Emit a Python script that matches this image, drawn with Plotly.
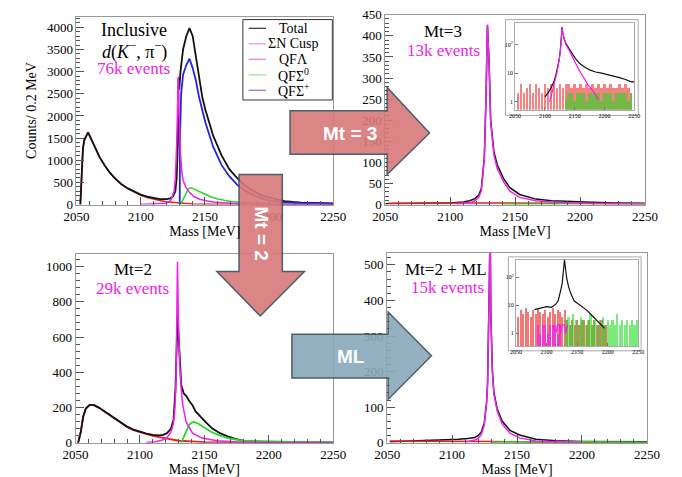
import plotly.graph_objects as go

W, H = 682, 477


def px(x):
    return x / W


def py(y):
    return 1 - y / H


# ---------------- Panel 1 : Inclusive ----------------
p1_total_x = [2053, 2054, 2055, 2056, 2058, 2059, 2060, 2062, 2065, 2068, 2072, 2076, 2080, 2085, 2090, 2095,
              2100, 2105, 2110, 2115, 2120, 2123, 2125, 2127, 2128, 2129, 2129.4, 2130, 2131, 2133, 2135.5,
              2138, 2140.5, 2143, 2145.5, 2148, 2150.5, 2156.5, 2163, 2169, 2175, 2181, 2188, 2194, 2200,
              2212, 2225, 2250]
p1_total_y = [0, 600, 1250, 1450, 1600, 1630, 1570, 1450, 1250, 1070, 880, 720, 590, 460, 365, 290,
              225, 180, 145, 125, 125, 140, 180, 300, 600, 1400, 2850, 2600, 3000, 3500, 3800,
              3980, 3800, 3370, 2860, 2420, 2130, 1550, 1110, 800, 600, 430, 306, 210, 160,
              80, 45, 25]
p1_lam_x = [2053, 2054, 2055, 2056, 2058, 2059, 2060, 2062, 2065, 2068, 2072, 2076, 2080, 2085, 2090, 2095,
            2100, 2105, 2110, 2115, 2120, 2125, 2130, 2135, 2140, 2150, 2160, 2180, 2250]
p1_lam_y = [0, 600, 1250, 1450, 1600, 1630, 1570, 1450, 1250, 1070, 880, 720, 590, 460, 360, 280,
            210, 160, 120, 90, 65, 50, 35, 25, 15, 8, 4, 1, 0]
p1_cusp_x = [2100, 2110, 2115, 2120, 2122, 2124, 2126, 2127, 2128, 2128.7, 2129.3, 2129.9, 2130.9, 2132,
             2133, 2135, 2138, 2142, 2146, 2152, 2158, 2170, 2185, 2200, 2250]
p1_cusp_y = [3, 8, 15, 30, 60, 130, 300, 600, 1350, 2200, 2890, 2050, 1180, 750,
             550, 400, 270, 170, 120, 80, 55, 30, 15, 8, 3]
p1_sig0_x = [2131, 2133, 2135, 2137, 2139, 2142, 2146, 2150, 2155, 2160, 2165, 2170, 2180, 2190, 2200,
             2225, 2250]
p1_sig0_y = [0, 120, 260, 350, 380, 350, 290, 230, 170, 125, 95, 70, 45, 30, 20, 10, 5]
p1_sigp_x = [2130.4, 2130.6, 2131.5, 2133, 2135.5, 2138, 2140.5, 2143, 2145.5, 2148, 2150.5, 2156.5, 2163,
             2169, 2175, 2181, 2188, 2194, 2200, 2212, 2225, 2250]
p1_sigp_y = [0, 1500, 2500, 2930, 3150, 3290, 3080, 2800, 2420, 2100, 1840, 1300, 890,
             640, 450, 320, 210, 140, 90, 55, 35, 20]

# ---------------- Panel 2 : Mt=3 ----------------
p2_total_x = [2050, 2080, 2100, 2110, 2115, 2119, 2122, 2124, 2126.3, 2127.6, 2128.7, 2130, 2131.2, 2133.7,
              2136.2, 2141, 2146, 2153.5, 2166, 2178, 2200, 2225, 2250]
p2_total_y = [2, 3, 4, 6, 9, 14, 22, 38, 112, 256, 425, 335, 200, 125,
              95, 62, 40, 24, 13, 9, 6, 4, 3]
p2_cusp_x = [2105, 2112, 2116, 2119, 2122, 2124, 2126.3, 2127.6, 2128.7, 2130, 2131.2, 2133.7, 2136.2,
             2141, 2146, 2153.5, 2166, 2178, 2200, 2250]
p2_cusp_y = [1, 3, 5, 9, 17, 32, 109, 254, 427, 331, 193, 117, 86,
             55, 32, 17, 9, 6, 3, 1]
p2_lam_x = [2052, 2080, 2110, 2140, 2170, 2200, 2250]
p2_lam_y = [3, 4, 4, 4, 3, 3, 2]
p2_sig0_x = [2140, 2170, 2200, 2250]
p2_sig0_y = [1, 2, 2, 2]

# ---------------- Panel 3 : Mt=2 ----------------
p3_total_x = [2052, 2054, 2056, 2058, 2061, 2064, 2068, 2072, 2076, 2080, 2085, 2090, 2095, 2100, 2105,
              2110, 2115, 2118, 2121, 2124, 2126, 2127.5, 2128.5, 2129.2, 2130.3, 2131, 2132, 2134, 2136,
              2138, 2141, 2143, 2146, 2151, 2156, 2162, 2168, 2174, 2180, 2193, 2210, 2250]
p3_total_y = [0, 60, 150, 195, 215, 215, 200, 180, 160, 140, 115, 92, 75, 62, 52,
              45, 42, 45, 55, 80, 130, 300, 600, 720, 560, 470, 330, 280, 265,
              240, 210, 180, 155, 118, 82, 55, 37, 22, 12, 6, 4, 2]
p3_lam_x = [2052, 2054, 2056, 2058, 2061, 2064, 2068, 2072, 2076, 2080, 2085, 2090, 2095, 2100, 2105,
            2110, 2115, 2120, 2125, 2130, 2140, 2150, 2170, 2250]
p3_lam_y = [0, 60, 150, 195, 215, 215, 200, 180, 160, 140, 115, 90, 72, 60, 48,
            40, 32, 25, 18, 12, 8, 4, 1, 0]
p3_cusp_x = [2105, 2112, 2117, 2121, 2124, 2126, 2127.1, 2127.9, 2128.4, 2129.1, 2129.8, 2130.8, 2132,
             2133.3, 2135.8, 2140.8, 2148, 2160, 2180, 2250]
p3_cusp_y = [2, 6, 15, 30, 60, 110, 200, 340, 614, 1026, 700, 449, 300,
             210, 119, 55, 27, 12, 4, 0]
p3_sig0_x = [2132, 2134, 2136, 2138, 2140, 2142, 2145, 2150, 2155.7, 2162, 2168, 2180, 2200, 2225, 2250]
p3_sig0_y = [0, 35, 70, 100, 115, 119, 110, 85, 60, 42, 27, 12, 8, 4, 3]

# ---------------- Panel 4 : Mt=2 + ML ----------------
p4_total_x = [2052, 2070, 2090, 2105, 2112, 2117.5, 2120, 2122.4, 2124.8, 2126.5, 2127.3, 2128, 2128.7,
              2129.3, 2129.8, 2131, 2132.2, 2134.7, 2138.4, 2144.6, 2152, 2164.4, 2180, 2200, 2250]
p4_total_y = [3, 5, 8, 10, 12, 15, 20, 30, 56, 112, 166, 275, 455,
              620, 365, 205, 142, 96, 62, 35, 22, 10, 6, 4, 3]
p4_cusp_x = [2110, 2115, 2117.5, 2120, 2122.4, 2124.8, 2126.5, 2127.3, 2128, 2128.7, 2129.3, 2129.8, 2131,
             2132.2, 2134.7, 2138.4, 2144.6, 2152, 2164.4, 2180, 2200]
p4_cusp_y = [2, 5, 8, 12, 23, 50, 109, 163, 272, 453, 620, 362, 199,
             136, 90, 54, 27, 14, 5, 3, 1]
p4_lam_x = [2052, 2080, 2110, 2130, 2160, 2200, 2250]
p4_lam_y = [5, 5, 5, 4, 2, 1, 0]
p4_sig0_x = [2130, 2160, 2200, 2250]
p4_sig0_y = [2, 3, 3, 2]

# ---------------- Insets (log) ----------------
in1_total_x = [2100, 2105, 2110, 2115, 2118, 2121, 2124, 2126, 2127.5, 2128.7, 2130, 2132, 2135, 2140,
               2145, 2150, 2158, 2165, 2175, 2185, 2195, 2205, 2215, 2225, 2235, 2245, 2250]
in1_total_y = [1.5, 2, 3, 5, 8, 14, 30, 70, 180, 400, 250, 160, 110, 75,
               50, 35, 22, 17, 13, 11, 10, 9, 8, 7, 6, 5, 5]
in1_cusp_x = [2108, 2112, 2116, 2120, 2123, 2126, 2127.5, 2128.7, 2130, 2132, 2135, 2140, 2145, 2150,
              2158, 2165, 2172, 2180, 2190]
in1_cusp_y = [1, 2, 4, 10, 22, 60, 160, 390, 240, 150, 100, 65, 40, 25,
              12, 7, 4, 2.5, 1.2]
in1_lam_bins = list(range(2055, 2250, 5))
in1_lam_y = [2, 4, 2, 3, 4, 2, 4, 3, 2, 4, 3, 4, 4, 3, 4, 3, 4, 4, 3, 4,
             3, 4, 3, 4, 3, 4, 3, 4, 3, 4, 3, 4, 3, 3, 4, 3, 4, 3, 2]
in1_sig0_bins = list(range(2135, 2250, 5))
in1_sig0_y = [1, 2, 2, 1, 2, 2, 2, 1, 2, 2, 2, 2, 1, 2, 2, 2, 1, 2, 2, 2, 2, 1, 2]

in2_total_x = [2080, 2090, 2100, 2108, 2115, 2119, 2122, 2124, 2125.5, 2127.5, 2129.3, 2131, 2133, 2136,
               2140, 2145, 2150, 2158, 2166, 2176, 2187, 2195]
in2_total_y = [7, 8, 9, 8.5, 11, 14.5, 25, 42, 60, 150, 420, 200, 90, 45,
               25, 14.5, 12, 9, 6.6, 4, 2.3, 1.5]
in2_cusp_x = [2110, 2115, 2118, 2121, 2123, 2125, 2127.5, 2129.3, 2131, 2134.6, 2140, 2145, 2150, 2155, 2160]
in2_cusp_y = [1, 3, 7, 14, 24, 50, 150, 420, 180, 32, 18, 11, 6.6, 3, 1.5]
in2_lam_bins = list(range(2054, 2250, 4))
in2_lam_y = [4, 7, 5, 8, 6, 4, 7, 5, 8, 6, 5, 7, 4, 6, 8, 5, 7, 6, 4, 7,
             3, 2, 3, 2, 3, 2, 3, 3, 2, 3, 2, 3, 2, 2, 3, 2, 2, 0, 0, 0, 0, 0, 0, 0, 0, 0, 0, 0, 0]
in2_cusp_bins = list(range(2086, 2126, 4))
in2_cusp_y = [2, 1, 2, 2, 1, 2, 2, 2, 1, 2]
in2_sig0_bins = list(range(2132, 2250, 4))
in2_sig0_y = [3, 4, 2, 5, 3, 2, 4, 3, 2, 3, 5, 2, 3, 2, 3, 4, 2, 3, 2, 3, 2, 5, 2, 3, 2, 3, 2, 3, 2, 3]

RED = '#ee1c1c'
GREEN = '#22dd22'
BLUE = '#2424e0'
MAG = '#f020f0'
BLK = '#111111'
SERIF = 'Liberation Serif, Times New Roman, DejaVu Serif, serif'
SANS = 'Liberation Sans, Arial, sans-serif'

fig = go.Figure()


def line(x, y, color, xa, ya, width=1.5):
    fig.add_trace(go.Scatter(x=x, y=y, mode='lines', line=dict(color=color, width=width),
                             xaxis=xa, yaxis=ya, showlegend=False, hoverinfo='skip'))


def bars(x, y, color, xa, ya, w, op):
    fig.add_trace(go.Bar(x=x, y=y, width=w, marker=dict(color=color, line=dict(width=0)), opacity=op,
                         xaxis=xa, yaxis=ya, showlegend=False, hoverinfo='skip'))


# panel 1
line(p1_lam_x, p1_lam_y, RED, 'x', 'y')
line(p1_sig0_x, p1_sig0_y, GREEN, 'x', 'y')
line(p1_total_x, p1_total_y, BLK, 'x', 'y', 1.8)
line(p1_sigp_x, p1_sigp_y, BLUE, 'x', 'y', 1.8)
line(p1_cusp_x, p1_cusp_y, MAG, 'x', 'y')
# panel 2
line(p2_total_x, p2_total_y, BLK, 'x2', 'y2')
line(p2_lam_x, p2_lam_y, RED, 'x2', 'y2')
line(p2_sig0_x, p2_sig0_y, GREEN, 'x2', 'y2')
line(p2_cusp_x, p2_cusp_y, MAG, 'x2', 'y2')
# panel 3
line(p3_lam_x, p3_lam_y, RED, 'x3', 'y3', 1.8)
line(p3_total_x, p3_total_y, BLK, 'x3', 'y3', 1.8)
line(p3_sig0_x, p3_sig0_y, GREEN, 'x3', 'y3', 1.8)
line(p3_cusp_x, p3_cusp_y, MAG, 'x3', 'y3')
# panel 4
line(p4_total_x, p4_total_y, BLK, 'x4', 'y4')
line(p4_lam_x, p4_lam_y, RED, 'x4', 'y4')
line(p4_sig0_x, p4_sig0_y, GREEN, 'x4', 'y4')
line(p4_cusp_x, p4_cusp_y, MAG, 'x4', 'y4')
# inset 1
bars(in1_lam_bins, in1_lam_y, RED, 'x5', 'y5', 4, 0.55)
bars(in1_sig0_bins, in1_sig0_y, GREEN, 'x5', 'y5', 4, 0.6)
line(in1_total_x, in1_total_y, BLK, 'x5', 'y5', 1.2)
line(in1_cusp_x, in1_cusp_y, MAG, 'x5', 'y5', 1.2)
# inset 2
bars(in2_lam_bins, in2_lam_y, RED, 'x6', 'y6', 3.4, 0.6)
bars(in2_cusp_bins, in2_cusp_y, MAG, 'x6', 'y6', 3.4, 0.7)
bars(in2_sig0_bins, in2_sig0_y, GREEN, 'x6', 'y6', 3.4, 0.6)
line(in2_total_x, in2_total_y, BLK, 'x6', 'y6', 1.2)
line(in2_cusp_x, in2_cusp_y, MAG, 'x6', 'y6', 1.2)


def xax(dom, anchor, title=True):
    d = dict(domain=dom, anchor=anchor, range=[2050, 2250], tickvals=[2050, 2100, 2150, 2200, 2250],
             ticks='inside', ticklen=8, tickcolor='#555', showline=True, linecolor='#999', linewidth=1,
             mirror=True, showgrid=False, zeroline=False,
             minor=dict(ticks='inside', ticklen=4, dtick=10, tick0=2050, tickcolor='#555', showgrid=False),
             tickfont=dict(family=SERIF, size=13, color='black'))
    if title:
        d['title'] = dict(text='Mass [MeV]', font=dict(family=SERIF, size=14, color='black'), standoff=2)
    return d


def yax(dom, anchor, rng, dt, mdt):
    return dict(domain=dom, anchor=anchor, range=rng, dtick=dt, tick0=0, ticks='inside', ticklen=8,
                tickcolor='#555', showline=True, linecolor='#999', linewidth=1, mirror=True, showgrid=False,
                zeroline=False, minor=dict(ticks='inside', ticklen=4, dtick=mdt, tick0=0, tickcolor='#555',
                                           showgrid=False),
                tickfont=dict(family=SERIF, size=13, color='black'))


def inset_x(dom, anchor):
    return dict(domain=dom, anchor=anchor, range=[2050, 2250], tickvals=[2050, 2100, 2150, 2200, 2250],
                ticks='inside', ticklen=3, tickcolor='#777', showline=True, linecolor='#aaa', linewidth=1,
                mirror=True, showgrid=False, zeroline=False,
                tickfont=dict(family=SERIF, size=6, color='black'))


def inset_y(dom, anchor, rng):
    return dict(domain=dom, anchor=anchor, type='log', range=rng, tickvals=[1, 10, 100],
                ticktext=['1', '10', '10<sup>2</sup>'], ticks='inside', ticklen=3, tickcolor='#777',
                showline=True, linecolor='#aaa', linewidth=1, mirror=True, showgrid=False, zeroline=False,
                tickfont=dict(family=SERIF, size=6, color='black'))


shapes = []


def poly(pts, fill, border='#3c4d5c'):
    path = 'M ' + ' L '.join(f'{px(a):.5f} {py(b):.5f}' for a, b in pts) + ' Z'
    shapes.append(dict(type='path', xref='paper', yref='paper', path=path, fillcolor=fill, opacity=0.9,
                       line=dict(color=border, width=1.5), layer='above'))


# inset frames
for (x0, y0, x1, y1) in [(512, 13, 650, 112), (515, 258, 653, 355)]:
    shapes.append(dict(type='rect', xref='paper', yref='paper', x0=px(x0), x1=px(x1), y0=py(y1), y1=py(y0),
                       line=dict(color='#aaaaaa', width=1), fillcolor='rgba(0,0,0,0)', layer='below'))

# legend box
shapes.append(dict(type='rect', xref='paper', yref='paper', x0=px(239), x1=px(332), y0=py(96), y1=py(13),
                   line=dict(color='#333', width=1), fillcolor='white', layer='above'))
leg_names = ['Total', 'ΣN Cusp', 'QFΛ', 'QFΣ<sup>0</sup>', 'QFΣ<sup>+</sup>']
leg_cols = ['#333333', '#ee88ee', '#ee8888', '#88ee88', '#7777dd']
leg_y = [22, 38, 54, 70, 86]
annotations = []
for nm, c, yy in zip(leg_names, leg_cols, leg_y):
    shapes.append(dict(type='line', xref='paper', yref='paper', x0=px(245), x1=px(263), y0=py(yy), y1=py(yy),
                       line=dict(color=c, width=1.2), layer='above'))
    annotations.append(dict(x=px(292), y=py(yy), xref='paper', yref='paper', text=nm, showarrow=False,
                            xanchor='center', yanchor='middle', font=dict(family=SERIF, size=14, color='black')))

# arrows
poly([(288, 107), (389, 107), (389, 83), (433, 130), (389, 173), (389, 152), (288, 152)], '#d9787a')
poly([(235, 173), (280, 173), (280, 273), (303, 273), (257, 319), (212, 273), (235, 273)], '#d9787a')
poly([(290, 338), (390, 338), (390, 315), (435, 360), (390, 405), (390, 383), (290, 383)], '#88a9ba')


def txt(x, y, t, size, color='black', fam=SERIF, angle=0):
    annotations.append(dict(x=px(x), y=py(y), xref='paper', yref='paper', text=t, showarrow=False,
                            xanchor='center', yanchor='middle', textangle=angle,
                            font=dict(family=fam, size=size, color=color)))


txt(19, 107, 'Counts/ 0.2 MeV', 14, angle=-90)
txt(126, 24, 'Inclusive', 18)
txt(126, 45, '<i>d</i>(<i>K</i><sup>−</sup>, π<sup>−</sup>)', 18)
txt(125, 63, '76k events', 17, MAG)
txt(447, 25, 'Mt=3', 17)
txt(448, 45, '13k events', 17, MAG)
txt(125, 271, 'Mt=2', 17)
txt(124, 291, '29k events', 17, MAG)
txt(450, 271, 'Mt=2 + ML', 17)
txt(452, 290, '15k events', 17, MAG)
txt(350, 131, '<b>Mt = 3</b>', 19, 'white', SANS)
txt(258, 234, '<b>Mt = 2</b>', 19, 'white', SANS, 90)
txt(351, 361, '<b>ML</b>', 19, 'white', SANS)

fig.update_layout(
    width=W, height=H, margin=dict(l=0, r=0, t=0, b=0),
    paper_bgcolor='white', plot_bgcolor='white', showlegend=False,
    barmode='overlay', bargap=0,
    xaxis=xax([px(66), px(333)], 'y'),
    yaxis=yax([py(204), py(10)], 'x', [0, 4240], 500, 100),
    xaxis2=xax([px(387), px(657)], 'y2'),
    yaxis2=yax([py(204), py(8)], 'x2', [0, 450], 50, 10),
    xaxis3=xax([px(65), px(333)], 'y3'),
    yaxis3=yax([py(450), py(255)], 'x3', [0, 1071], 200, 40),
    xaxis4=xax([px(389), px(659)], 'y4'),
    yaxis4=yax([py(450), py(254)], 'x4', [0, 533], 100, 20),
    xaxis5=inset_x([px(522), px(646)], 'y5'),
    yaxis5=inset_y([py(106), py(17)], 'x5', [-0.27, 2.73]),
    xaxis6=inset_x([px(523), px(650)], 'y6'),
    yaxis6=inset_y([py(350), py(261)], 'x6', [-0.45, 2.62]),
    shapes=shapes, annotations=annotations,
)

fig.write_html('out.html')
